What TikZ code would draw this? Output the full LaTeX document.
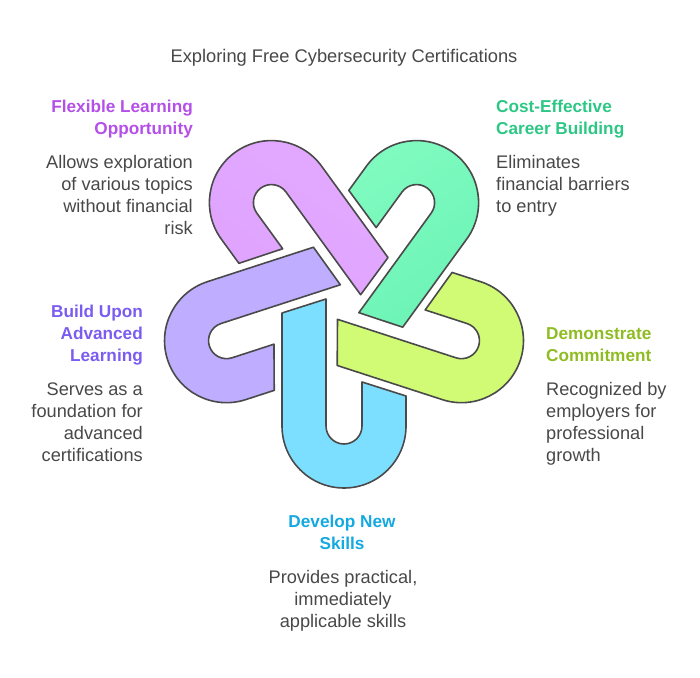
\documentclass[tikz,border=0pt]{standalone}
\usepackage{fontspec}
\setmainfont{Liberation Sans}
\definecolor{textgray}{HTML}{484848}
\definecolor{linegray}{HTML}{4A4A4A}
\definecolor{pinkfill}{HTML}{E3A9FF}
\definecolor{pinkdeep}{HTML}{DFA3FF}
\definecolor{greenfill}{HTML}{80FBC0}
\definecolor{greendeep}{HTML}{6CF3B6}
\definecolor{limefill}{HTML}{D1FB74}
\definecolor{bluefill}{HTML}{7DDFFF}
\definecolor{purplefill}{HTML}{BFADFF}
\definecolor{pinkhead}{HTML}{B44FE8}
\definecolor{greenhead}{HTML}{2CC784}
\definecolor{limehead}{HTML}{8FBC22}
\definecolor{bluehead}{HTML}{14A9E0}
\definecolor{purplehead}{HTML}{7B5CF0}
\newcommand{\linkpath}[2]{(#1) -- (#2) -- (-18,-123.5) arc (180:360:18) -- (18,-79.5) -- (62,-93.5) -- (62,-123.5) arc (0:-180:62) -- cycle}

\begin{document}
\begin{tikzpicture}[x=1pt, y=1pt,
  link/.style={draw=linegray, line width=1.6pt, line join=round, shift={(344,374.5)}},
  headtext/.style={font=\fontsize{17.2}{22}\selectfont\bfseries, inner sep=0pt},
  bodytext/.style={font=\fontsize{18.2}{22}\selectfont, text=textgray, inner sep=0pt}]
\useasboundingbox (0, 0) rectangle (700, 677);

\draw [link, fill=bluefill, rotate=0] \linkpath{-62,-10.5}{-18,3.5};
\draw [link, fill=limefill, rotate=72] \linkpath{-62,-13}{-18,1};
\draw [link, top color=greenfill, middle color=greenfill, bottom color=greendeep, shading angle=36, rotate=144] \linkpath{-62,-14.5}{-18,-0.5};
\draw [link, top color=pinkfill, middle color=pinkfill, bottom color=pinkdeep, shading angle=-36, rotate=216] \linkpath{-62,-10.5}{-18,3.5};
\draw [link, fill=purplefill, rotate=288] \linkpath{-62,-12}{-18,2};

\node [font=\fontsize{18.3}{22}\selectfont, text=textgray, inner sep=0pt] (title) at (344, 619.5) {Exploring Free Cybersecurity Certifications};

\node [headtext, text=pinkhead, align=right, anchor=north east] (flexhead) at (193, 577) {Flexible Learning\\Opportunity};
\node [bodytext, align=right, anchor=north east] (flexbody) at (193, 522) {Allows exploration\\of various topics\\without financial\\risk};

\node [headtext, text=greenhead, align=left, anchor=north west] (costhead) at (496, 577) {Cost-Effective\\Career Building};
\node [bodytext, align=left, anchor=north west] (costbody) at (496, 522) {Eliminates\\financial barriers\\to entry};

\node [headtext, text=limehead, align=left, anchor=north west] (demohead) at (546, 350) {Demonstrate\\Commitment};
\node [bodytext, align=left, anchor=north west] (demobody) at (546, 295) {Recognized by\\employers for\\professional\\growth};

\node [headtext, text=purplehead, align=right, anchor=north east] (buildhead) at (143, 372) {Build Upon\\Advanced\\Learning};
\node [bodytext, align=right, anchor=north east] (buildbody) at (143, 294) {Serves as a\\foundation for\\advanced\\certifications};

\node [headtext, text=bluehead, align=center, anchor=north] (skillhead) at (342, 162) {Develop New\\Skills};
\node [bodytext, align=center, anchor=north] (skillbody) at (343, 107) {Provides practical,\\immediately\\applicable skills};
\end{tikzpicture}
\end{document}
